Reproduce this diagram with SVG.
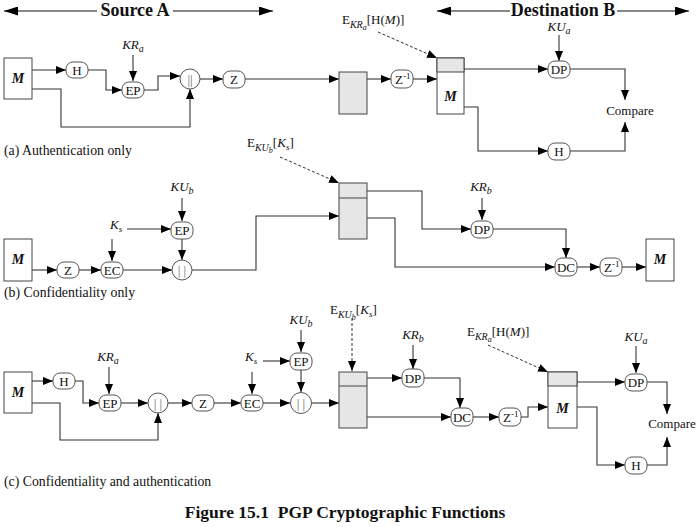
<svg xmlns="http://www.w3.org/2000/svg" width="698" height="527" viewBox="0 0 698 527">
<defs>
<marker id="ah" viewBox="0 0 10 8" refX="10" refY="4" markerWidth="10" markerHeight="8" markerUnits="userSpaceOnUse" orient="auto"><path d="M0,0 L10,4 L0,8 z" fill="#000"/></marker>
<marker id="hd" viewBox="0 0 14 9" refX="14" refY="4.5" markerWidth="14" markerHeight="9" markerUnits="userSpaceOnUse" orient="auto"><path d="M0,0 L14,4.5 L0,9 z" fill="#000"/></marker>
</defs>
<style>
text{font-family:"Liberation Serif","Times New Roman",serif;font-size:13px;fill:#111}
.c{text-anchor:middle}
.it{font-style:italic}
.bm{font-weight:bold;font-style:italic;font-size:14px}
.hdr{font-weight:bold;font-size:18px}
.cap{font-weight:bold;font-size:17.5px}
.sec{font-size:13.8px}
.n{fill:#fff;stroke:#555;stroke-width:1}
.bx{fill:#fff;stroke:#444;stroke-width:1}
.gy{fill:#e6e6e6;stroke:#444;stroke-width:1}
.a{fill:none;stroke:#333;stroke-width:1.1;marker-end:url(#ah)}
.d{fill:none;stroke:#333;stroke-width:1;stroke-dasharray:3,2;marker-end:url(#ah)}
.h{fill:none;stroke:#111;stroke-width:1.2;marker-end:url(#hd)}
.cc{fill:#666}
</style>
<rect width="698" height="527" fill="#fff"/>

<g id="headers">
<text class="hdr c" x="135" y="16">Source A</text>
<text class="hdr c" x="563" y="16">Destination B</text>
</g>

<g id="connectors">
<path class="h" d="M97,11 H4"/>
<path class="h" d="M173,11 H273"/>
<path class="h" d="M510,11 H437"/>
<path class="h" d="M617,11 H689"/>
<!-- (a) -->
<path class="a" d="M32,70 H66"/>
<path class="a" d="M88,70 H106 V90 H122"/>
<path class="a" d="M133,55 V81"/>
<path class="a" d="M144,90 H158 V76 H180"/>
<path class="a" d="M32,89 H61 V127 H190 V89"/>
<path class="a" d="M200,79 H223"/>
<path class="a" d="M245,79 H339"/>
<path class="a" d="M367,79 H391"/>
<path class="a" d="M413,79 H437"/>
<path class="d" d="M378,32 L437,58"/>
<path class="a" d="M464,69 H548"/>
<path class="a" d="M559,35 V61"/>
<path class="a" d="M570,69 H625 V100"/>
<path class="a" d="M464,107 H478 V151 H548"/>
<path class="a" d="M570,151 H625 V122"/>
<!-- (b) -->
<path class="a" d="M32,270 H57"/>
<path class="a" d="M79,270 H101"/>
<path class="a" d="M123,270 H172"/>
<path class="a" d="M127,229 H171"/>
<path class="a" d="M112,239 V261"/>
<path class="a" d="M182,198 V221"/>
<path class="a" d="M182,239 V260"/>
<path class="a" d="M192,270 H256 V216 H339"/>
<path class="d" d="M280,157 L339,183"/>
<path class="a" d="M367,191 H422 V229 H471"/>
<path class="a" d="M482,198 V220"/>
<path class="a" d="M493,229 H566 V258"/>
<path class="a" d="M367,218 H395 V267 H555"/>
<path class="a" d="M577,267 H600"/>
<path class="a" d="M622,267 H646"/>
<!-- (c) -->
<path class="a" d="M32,381 H53"/>
<path class="a" d="M75,381 H83 V403 H99"/>
<path class="a" d="M109,367 V394"/>
<path class="a" d="M120,403 H148"/>
<path class="a" d="M32,403 H60 V440 H158 V413"/>
<path class="a" d="M168,403 H192"/>
<path class="a" d="M214,403 H241"/>
<path class="a" d="M263,361 H290"/>
<path class="a" d="M252,372 V394"/>
<path class="a" d="M301,330 V352"/>
<path class="a" d="M263,403 H290"/>
<path class="a" d="M301,370 V392"/>
<path class="a" d="M312,403 H339"/>
<path class="d" d="M352,318 V371"/>
<path class="a" d="M367,378 H402"/>
<path class="a" d="M413,345 V369"/>
<path class="a" d="M424,378 H460 V408"/>
<path class="a" d="M367,417 H451"/>
<path class="a" d="M473,417 H499"/>
<path class="a" d="M521,417 H528 V407 H548"/>
<path class="d" d="M488,345 L548,372"/>
<path class="a" d="M577,382 H625"/>
<path class="a" d="M636,346 V373"/>
<path class="a" d="M647,382 H667 V414"/>
<path class="a" d="M577,407 H597 V465 H625"/>
<path class="a" d="M647,465 H667 V437"/>
</g>

<!-- (a) nodes -->
<g id="a-M"><rect class="bx" x="4" y="58" width="28" height="41"/><text class="bm c" x="18" y="83">M</text></g>
<g id="a-H"><rect class="n" x="66" y="62" width="22" height="16" rx="7"/><text class="c" x="77" y="74.5">H</text></g>
<g id="a-KRa"><text class="c it" x="133" y="49">KR<tspan font-size="10" dy="3">a</tspan></text></g>
<g id="a-EP"><rect class="n" x="122" y="82" width="22" height="16" rx="7"/><text class="c" x="133" y="94.5">EP</text></g>
<g id="a-concat"><circle class="n" cx="190" cy="79" r="10"/><text class="c cc" x="190" y="83.5">||</text></g>
<g id="a-Z"><rect class="n" x="223" y="71" width="22" height="17" rx="7"/><text class="c" x="234" y="84">Z</text></g>
<g id="a-box"><rect class="gy" x="339" y="72" width="28" height="42"/></g>
<g id="a-Zinv"><rect class="n" x="391" y="70" width="22" height="18" rx="7"/><text x="395" y="84">Z<tspan font-size="9" dy="-5">-1</tspan></text></g>
<g id="a-label-sig"><text x="342" y="24">E<tspan class="it" font-size="10" dy="4">KR</tspan><tspan class="it" font-size="8" dy="2">a</tspan><tspan dy="-6">[H(</tspan><tspan class="it">M</tspan>)]</text></g>
<g id="a-recv"><rect class="bx" x="437" y="58" width="27" height="56"/><rect class="gy" x="437" y="58" width="27" height="14"/><text class="bm c" x="450.5" y="101">M</text></g>
<g id="a-KUa"><text class="c it" x="559" y="31">KU<tspan font-size="10" dy="3">a</tspan></text></g>
<g id="a-DP"><rect class="n" x="548" y="61" width="22" height="17" rx="7"/><text class="c" x="559" y="74">DP</text></g>
<g id="a-Compare"><text class="c" x="630" y="115">Compare</text></g>
<g id="a-H2"><rect class="n" x="548" y="143" width="22" height="17" rx="7"/><text class="c" x="559" y="156">H</text></g>
<g id="a-caption"><text class="sec" x="4" y="155">(a) Authentication only</text></g>

<!-- (b) nodes -->
<g id="b-label-key"><text x="247" y="147">E<tspan class="it" font-size="10" dy="4">KU</tspan><tspan class="it" font-size="8" dy="2">b</tspan><tspan dy="-6">[</tspan><tspan class="it">K</tspan><tspan class="it" font-size="9" dy="3">s</tspan><tspan dy="-3">]</tspan></text></g>
<g id="b-M"><rect class="bx" x="4" y="239" width="28" height="42"/><text class="bm c" x="18" y="264">M</text></g>
<g id="b-Z"><rect class="n" x="57" y="262" width="22" height="16" rx="7"/><text class="c" x="68" y="274.5">Z</text></g>
<g id="b-Ks"><text class="it" x="110" y="229">K<tspan font-size="9" dy="3">s</tspan></text></g>
<g id="b-EC"><rect class="n" x="101" y="262" width="22" height="16" rx="7"/><text class="c" x="112" y="274.5">EC</text></g>
<g id="b-KUb"><text class="c it" x="182" y="191">KU<tspan font-size="10" dy="3">b</tspan></text></g>
<g id="b-EP"><rect class="n" x="171" y="222" width="22" height="17" rx="7"/><text class="c" x="182" y="235">EP</text></g>
<g id="b-concat"><circle class="n" cx="182" cy="270" r="10"/><text class="c cc" x="182" y="274.5">| |</text></g>
<g id="b-box"><rect class="gy" x="339" y="183" width="28" height="56"/><line x1="339" y1="198" x2="367" y2="198" stroke="#444"/></g>
<g id="b-KRb"><text class="c it" x="481" y="191">KR<tspan font-size="10" dy="3">b</tspan></text></g>
<g id="b-DP"><rect class="n" x="471" y="221" width="22" height="17" rx="7"/><text class="c" x="482" y="234">DP</text></g>
<g id="b-DC"><rect class="n" x="555" y="258" width="22" height="18" rx="7"/><text class="c" x="566" y="271.5">DC</text></g>
<g id="b-Zinv"><rect class="n" x="600" y="258" width="22" height="18" rx="7"/><text x="604" y="272">Z<tspan font-size="9" dy="-5">-1</tspan></text></g>
<g id="b-Mout"><rect class="bx" x="646" y="239" width="28" height="42"/><text class="bm c" x="660" y="264">M</text></g>
<g id="b-caption"><text class="sec" x="4" y="297">(b) Confidentiality only</text></g>

<!-- (c) nodes -->
<g id="c-M"><rect class="bx" x="4" y="372" width="28" height="41"/><text class="bm c" x="18" y="397">M</text></g>
<g id="c-H"><rect class="n" x="53" y="373" width="22" height="16" rx="7"/><text class="c" x="64" y="385.5">H</text></g>
<g id="c-KRa"><text class="c it" x="108" y="361">KR<tspan font-size="10" dy="3">a</tspan></text></g>
<g id="c-EP"><rect class="n" x="99" y="395" width="22" height="16" rx="7"/><text class="c" x="110" y="407.5">EP</text></g>
<g id="c-concat1"><circle class="n" cx="158" cy="403" r="10"/><text class="c cc" x="158" y="407.5">| |</text></g>
<g id="c-Z"><rect class="n" x="192" y="395" width="22" height="16" rx="7"/><text class="c" x="203" y="407.5">Z</text></g>
<g id="c-Ks"><text class="it" x="245" y="361">K<tspan font-size="9" dy="3">s</tspan></text></g>
<g id="c-EC"><rect class="n" x="241" y="395" width="22" height="16" rx="7"/><text class="c" x="252" y="407.5">EC</text></g>
<g id="c-KUb"><text class="c it" x="301" y="324">KU<tspan font-size="10" dy="3">b</tspan></text></g>
<g id="c-EP2"><rect class="n" x="290" y="353" width="22" height="17" rx="7"/><text class="c" x="301" y="366">EP</text></g>
<g id="c-concat2"><circle class="n" cx="301" cy="403" r="10.5"/><text class="c cc" x="301" y="407.5">| |</text></g>
<g id="c-label-key"><text x="330" y="314">E<tspan class="it" font-size="10" dy="4">KU</tspan><tspan class="it" font-size="8" dy="2">b</tspan><tspan dy="-6">[</tspan><tspan class="it">K</tspan><tspan class="it" font-size="9" dy="3">s</tspan><tspan dy="-3">]</tspan></text></g>
<g id="c-box"><rect class="gy" x="339" y="372" width="28" height="56"/><line x1="339" y1="386" x2="367" y2="386" stroke="#444"/></g>
<g id="c-KRb"><text class="c it" x="413" y="339">KR<tspan font-size="10" dy="3">b</tspan></text></g>
<g id="c-DP"><rect class="n" x="402" y="369" width="22" height="18" rx="7"/><text class="c" x="413" y="382.5">DP</text></g>
<g id="c-DC"><rect class="n" x="451" y="408" width="22" height="18" rx="7"/><text class="c" x="462" y="421.5">DC</text></g>
<g id="c-Zinv"><rect class="n" x="499" y="408" width="22" height="18" rx="7"/><text x="503" y="422">Z<tspan font-size="9" dy="-5">-1</tspan></text></g>
<g id="c-label-sig"><text x="467" y="336">E<tspan class="it" font-size="10" dy="4">KR</tspan><tspan class="it" font-size="8" dy="2">a</tspan><tspan dy="-6">[H(</tspan><tspan class="it">M</tspan>)]</text></g>
<g id="c-recv"><rect class="bx" x="548" y="372" width="29" height="56"/><rect class="gy" x="548" y="372" width="29" height="14"/><text class="bm c" x="562.5" y="413">M</text></g>
<g id="c-KUa"><text class="c it" x="636" y="341">KU<tspan font-size="10" dy="3">a</tspan></text></g>
<g id="c-DP2"><rect class="n" x="625" y="374" width="22" height="17" rx="7"/><text class="c" x="636" y="387">DP</text></g>
<g id="c-Compare"><text class="c" x="672" y="428">Compare</text></g>
<g id="c-H2"><rect class="n" x="625" y="457" width="22" height="17" rx="7"/><text class="c" x="636" y="470">H</text></g>
<g id="c-caption"><text class="sec" x="4" y="486">(c) Confidentiality and authentication</text></g>

<g id="figcaption"><text class="cap c" x="345" y="518">Figure 15.1&#160; PGP Cryptographic Functions</text></g>
</svg>
